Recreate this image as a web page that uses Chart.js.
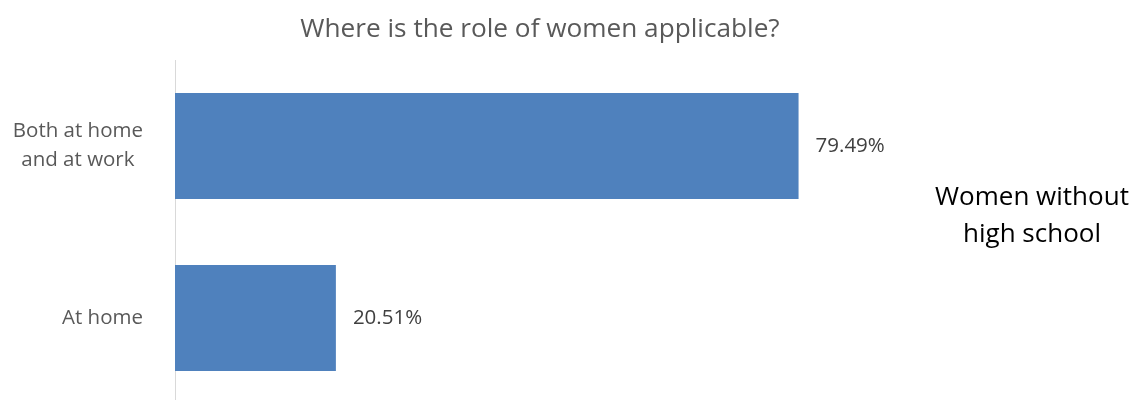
<!DOCTYPE html>
<html>
<head>
<meta charset="utf-8">
<script src="https://cdn.jsdelivr.net/npm/chart.js@4"></script>
<style>
  html, body { margin: 0; padding: 0; background: #fff; overflow: hidden; }
  canvas { display: block; }
</style>
</head>
<body>
<canvas id="c" width="1139" height="404"></canvas>
<script>
const chartTitle = "Where is the role of women applicable?";
const categories = [["Both at home", "and at work"], ["At home"]];
const seriesName = ["Women without", "high school"];
const values = [79.49, 20.51];
const valueLabels = ["79.49%", "20.51%"];

const FONT = "'Open Sans', sans-serif";

const dataLabelPlugin = {
  id: 'dataLabels',
  afterDatasetsDraw(chart) {
    const ctx = chart.ctx;
    const meta = chart.getDatasetMeta(0);
    ctx.save();
    ctx.font = "20.5px " + FONT;
    ctx.fillStyle = "#404040";
    ctx.textAlign = "left";
    ctx.textBaseline = "middle";
    meta.data.forEach((bar, i) => {
      ctx.fillText(valueLabels[i], bar.x + 17, bar.y);
    });
    ctx.restore();
  }
};

// category labels: block right-aligned to the axis, lines centred within the block
const categoryLabelPlugin = {
  id: 'categoryLabels',
  afterDraw(chart) {
    const ctx = chart.ctx;
    const scale = chart.scales.y;
    const right = chart.chartArea.left - 32;
    const lh = 29;
    ctx.save();
    ctx.font = "20.5px " + FONT;
    ctx.fillStyle = "#595959";
    ctx.textAlign = "center";
    ctx.textBaseline = "middle";
    categories.forEach((lines, i) => {
      const y = scale.getPixelForValue(i);
      const w = Math.max(...lines.map(l => ctx.measureText(l).width));
      const cx = right - w / 2;
      lines.forEach((l, j) => {
        ctx.fillText(l, cx, y + (j - (lines.length - 1) / 2) * lh);
      });
    });
    ctx.restore();
  }
};

const textPlugin = {
  id: 'sideText',
  afterDraw(chart) {
    const ctx = chart.ctx;
    const area = chart.chartArea;
    ctx.save();
    // title
    ctx.font = "26.2px " + FONT;
    ctx.fillStyle = "#595959";
    ctx.textAlign = "center";
    ctx.textBaseline = "middle";
    ctx.fillText(chartTitle, 540, 30);
    // series legend (text only)
    ctx.font = "26px " + FONT;
    ctx.fillStyle = "#000000";
    const cx = area.right + 151;
    const cy = 216;
    const lh = 37;
    seriesName.forEach((line, i) => {
      ctx.fillText(line, cx, cy + (i - (seriesName.length - 1) / 2) * lh);
    });
    ctx.restore();
  }
};

new Chart(document.getElementById('c'), {
  type: 'bar',
  data: {
    labels: categories,
    datasets: [{
      label: seriesName.join(' '),
      data: values,
      backgroundColor: '#4f81bd',
      borderWidth: 0,
      categoryPercentage: 0.616,
      barPercentage: 1.0
    }]
  },
  plugins: [dataLabelPlugin, categoryLabelPlugin, textPlugin],
  options: {
    indexAxis: 'y',
    responsive: false,
    animation: false,
    layout: { padding: { top: 60, right: 258, bottom: 0, left: 0 } },
    plugins: {
      legend: { display: false },
      tooltip: { enabled: false },
      title: { display: false }
    },
    scales: {
      x: {
        min: 0,
        max: 90,
        display: false,
        grid: { display: false }
      },
      y: {
        grid: { display: false, drawTicks: false },
        border: { display: true, color: '#d9d9d9', width: 1 },
        ticks: { display: false },
        afterFit(scale) {
          scale.width = 175;
          scale.paddingTop = 0;
          scale.paddingBottom = 0;
        }
      }
    }
  }
});
</script>
</body>
</html>
